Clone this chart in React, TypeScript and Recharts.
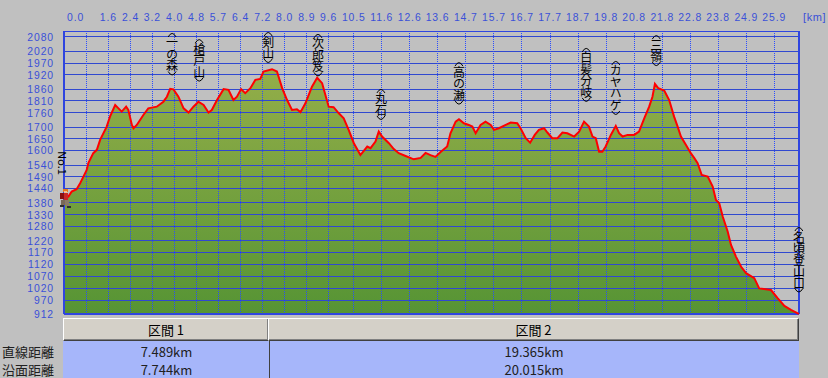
import React from "react";
import {
  Area,
  ComposedChart,
  Line,
  ReferenceDot,
  ReferenceLine,
  XAxis,
  YAxis,
} from "recharts";

// horizontal distance (km) and elevation (m)
const kmValues = [
  0, 0.16, 0.28, 0.46, 0.59, 0.71, 0.83, 0.89, 1.07, 1.2,
  1.32, 1.56, 1.68, 1.87, 1.99, 2.11, 2.27, 2.35, 2.48, 2.54,
  2.66, 2.9, 3.08, 3.39, 3.63, 3.76, 3.88, 4.0, 4.18, 4.37,
  4.55, 4.73, 4.91, 5.1, 5.28, 5.4, 5.59, 5.83, 6.01, 6.19,
  6.32, 6.47, 6.62, 6.81, 6.99, 7.17, 7.29, 7.6, 7.78, 7.97,
  8.15, 8.33, 8.51, 8.64, 8.82, 9.06, 9.25, 9.43, 9.67, 9.85,
  10.04, 10.22, 10.4, 10.59, 10.83, 11.08, 11.2, 11.38, 11.5, 11.62,
  11.87, 12.05, 12.23, 12.48, 12.78, 13.03, 13.21, 13.39, 13.57, 13.76,
  14.0, 14.12, 14.31, 14.43, 14.61, 14.79, 14.92, 15.04, 15.22, 15.4,
  15.59, 15.71, 15.89, 16.14, 16.32, 16.56, 16.68, 16.87, 17.03, 17.2,
  17.35, 17.54, 17.66, 17.84, 18.03, 18.21, 18.39, 18.64, 18.82, 19.0,
  19.18, 19.31, 19.43, 19.55, 19.67, 19.79, 19.98, 20.16, 20.28, 20.41,
  20.59, 20.83, 21.01, 21.2, 21.38, 21.5, 21.59, 21.71, 21.93, 22.11,
  22.29, 22.42, 22.54, 22.72, 22.9, 23.03, 23.15, 23.3, 23.52, 23.7,
  23.82, 23.94, 24.07, 24.25, 24.37, 24.55, 24.74, 24.92, 25.22, 25.4,
  25.83, 26.08, 26.32, 26.56, 26.81, 26.85,
];
const elevValues = [
  1393, 1407, 1428, 1438, 1463, 1491, 1519, 1548, 1590, 1604,
  1646, 1702, 1744, 1793, 1779, 1765, 1786, 1772, 1709, 1695,
  1709, 1751, 1779, 1786, 1807, 1828, 1861, 1859, 1828, 1779,
  1761, 1786, 1807, 1793, 1761, 1772, 1814, 1860, 1857, 1814,
  1828, 1860, 1843, 1864, 1899, 1903, 1934, 1944, 1934, 1864,
  1814, 1772, 1775, 1763, 1800, 1870, 1908, 1885, 1786, 1784,
  1758, 1737, 1688, 1632, 1582, 1618, 1611, 1639, 1681, 1660,
  1632, 1607, 1590, 1578, 1564, 1570, 1591, 1582, 1574, 1595,
  1618, 1674, 1723, 1733, 1716, 1709, 1702, 1674, 1709, 1723,
  1709, 1688, 1695, 1709, 1719, 1716, 1695, 1653, 1634, 1667,
  1688, 1695, 1677, 1653, 1653, 1677, 1674, 1660, 1681, 1723,
  1702, 1660, 1653, 1596, 1596, 1618, 1667, 1705, 1674, 1660,
  1667, 1667, 1681, 1737, 1786, 1828, 1882, 1864, 1854, 1814,
  1744, 1702, 1660, 1625, 1590, 1569, 1548, 1498, 1491, 1449,
  1393, 1379, 1322, 1259, 1203, 1154, 1111, 1084, 1063, 1020,
  1013, 978, 946, 929, 915, 912,
];

const xTickKm = [
  0, 0.82, 1.62, 2.43, 3.23, 4.04, 4.84, 5.64, 6.45, 7.26, 8.06, 8.87, 9.67,
  10.59, 11.61, 12.63, 13.65, 14.68, 15.71, 16.73, 17.76, 18.78, 19.81, 20.83,
  21.86, 22.88, 23.9, 24.93, 25.95,
];
const xTickLabels = [
  "0.0", "", "1.6", "2.4", "3.2", "4.0", "4.8", "5.7", "6.4", "7.2", "8.0", "8.9", "9.6",
  "10.5", "11.6", "12.6", "13.6", "14.7", "15.7", "16.7", "17.7", "18.7", "19.8", "20.8",
  "21.8", "22.8", "23.8", "24.9", "25.9",
];
const yTicks = [
  912, 970, 1020, 1070, 1120, 1170, 1220, 1280, 1330, 1380, 1440, 1490, 1540,
  1600, 1650, 1700, 1760, 1810, 1860, 1920, 1970, 2020, 2080,
];

// point names and where their labels sit (km, elevation of label top)
const pointNames = ["一の森", "槍戸山", "剣山", "次郎笈", "丸石", "高の瀬", "白髪分岐", "カヤハゲ", "三嶺", "名頃登山口"];
const pointKm = [3.95, 4.94, 7.46, 9.28, 11.58, 14.43, 19.08, 20.16, 21.64, 26.85];
const pointLabelElev = [2101, 2075, 2105, 2097, 1865, 1978, 2038, 1983, 2092, 1283];

const sectionNames = ["区間 1", "区間 2"];
const sectionKm = [7.489, 26.854];
const rowLabels = ["直線距離", "沿面距離"];
const straightDist = ["7.489km", "19.365km"];
const surfaceDist = ["7.744km", "20.015km"];

const profile = kmValues.map((km, i) => ({ km, elev: elevValues[i] }));

const X_MAX = 26.854;
const Y_MIN = 912;
const Y_MAX = 2105;
const PLOT_LEFT = 64;
const PLOT_RIGHT = 799;
const AXIS_BLUE = "#3a50d8";
const GRID_BLUE = "#3048d0";
const BORDER_BLUE = "#2f45e0";
const AXIS_FONT = '"Liberation Sans", Arial, sans-serif';

const kmToPx = (km: number) => PLOT_LEFT + (km / X_MAX) * (PLOT_RIGHT - PLOT_LEFT);

function XTick(props: any) {
  const { x, y, index } = props;
  const label = xTickLabels[index];
  if (!label) return null;
  const first = index === 0;
  return (
    <text
      x={first ? x + 3 : x}
      y={y}
      textAnchor={first ? "start" : "middle"}
      fill={AXIS_BLUE}
      fontSize={10.4}
      fontFamily={AXIS_FONT}
      letterSpacing={0.9}
    >
      {label}
    </text>
  );
}

function Hiker(props: any) {
  const { cx, cy, index } = props;
  if (index !== 0) return null;
  return (
    <g key="hiker" shapeRendering="crispEdges">
      <rect x={cx - 1} y={cy - 11} width={5} height={3} fill="#e8781c" />
      <rect x={cx} y={cy - 9} width={3} height={2} fill="#f0c090" />
      <rect x={cx - 4} y={cy - 7} width={4} height={6} fill="#8a1010" />
      <rect x={cx} y={cy - 7} width={4} height={7} fill="#c82828" />
      <rect x={cx - 3} y={cy} width={4} height={5} fill="#7a6a58" />
      <rect x={cx + 1} y={cy} width={4} height={6} fill="#8a7a66" />
      <rect x={cx - 4} y={cy + 5} width={4} height={2} fill="#303030" />
      <rect x={cx + 3} y={cy + 6} width={4} height={2} fill="#303030" />
    </g>
  );
}

// vertical, bracketed place name written top to bottom
const STEP = 11.5;
const vLabel = (text: string) => (p: any) => {
  const { cx, cy } = p;
  const n = Array.from(text).length;
  const bottom = cy + 5 + n * STEP;
  return (
    <g>
      <path d={`M${cx - 4},${cy + 5} Q${cx},${cy - 2} ${cx + 4},${cy + 5}`} stroke="#000" strokeWidth={1} fill="none" />
      <text
        x={cx}
        y={cy + 5}
        fontSize={12}
        fill="#000"
        letterSpacing={STEP - 12}
        style={{ writingMode: "vertical-rl" }}
      >
        {text}
      </text>
      <path d={`M${cx - 4},${bottom} Q${cx},${bottom + 7} ${cx + 4},${bottom}`} stroke="#000" strokeWidth={1} fill="none" />
    </g>
  );
};

const startLabel = (p: any) => (
  <text
    x={p.cx}
    y={p.cy}
    transform={`rotate(90 ${p.cx} ${p.cy})`}
    dy={1}
    dominantBaseline="central"
    fontSize={11}
    fill="#000"
  >
    No.1
  </text>
);

const headerCell: React.CSSProperties = {
  position: "absolute",
  top: 318,
  height: 23,
  boxSizing: "border-box",
  background: "#d4d0c8",
  borderTop: "1px solid #ffffff",
  borderLeft: "1px solid #ffffff",
  borderRight: "1px solid #404040",
  borderBottom: "1px solid #404040",
  boxShadow: "inset -1px -1px #808080",
  textAlign: "center",
  lineHeight: "21px",
  fontSize: 13,
  color: "#000",
};

export default function App() {
  const edges = [0, ...sectionKm].map(kmToPx);
  return (
    <div
      style={{
        position: "absolute",
        left: 0,
        top: 0,
        width: 828,
        height: 378,
        background: "#c0c0c0",
        overflow: "hidden",
        fontFamily: '"Noto Sans CJK JP", sans-serif',
      }}
    >
      <style>{`.profile .recharts-reference-line line { shape-rendering: crispEdges; }`}</style>
      <div className="profile" style={{ position: "absolute", left: 0, top: 0 }}>
        <ComposedChart width={828} height={322} data={profile} margin={{ top: 0, right: 828 - PLOT_RIGHT, bottom: 8, left: 0 }}>
          <defs>
            <linearGradient id="profileFill" x1="0" y1="0" x2="0" y2="1">
              <stop offset="0%" stopColor="#94ae49" />
              <stop offset="100%" stopColor="#569434" />
            </linearGradient>
          </defs>
          <XAxis
            dataKey="km"
            type="number"
            orientation="top"
            domain={[0, X_MAX]}
            ticks={xTickKm}
            interval={0}
            height={31}
            axisLine={false}
            tickLine={false}
            tickSize={0}
            tickMargin={10}
            tick={XTick}
          />
          <YAxis
            type="number"
            domain={[Y_MIN, Y_MAX]}
            ticks={yTicks}
            interval={0}
            width={PLOT_LEFT}
            axisLine={false}
            tickLine={false}
            tickSize={0}
            tickMargin={10}
            tick={{ fill: AXIS_BLUE, fontSize: 10.4, fontFamily: AXIS_FONT, letterSpacing: 0.9 }}
          />
          <Area
            dataKey="elev"
            type="linear"
            stroke="none"
            fill="url(#profileFill)"
            fillOpacity={1}
            isAnimationActive={false}
            activeDot={false}
          />
          {yTicks.slice(1).map((v) => (
            <ReferenceLine key={"y" + v} y={v} stroke={GRID_BLUE} strokeWidth={1} />
          ))}
          {xTickKm.slice(1).map((v) => (
            <ReferenceLine key={"x" + v} x={v} stroke="#2a4cff" strokeWidth={1} strokeDasharray="1 1" />
          ))}
          <ReferenceLine y={Y_MAX} stroke={BORDER_BLUE} strokeWidth={1} />
          <ReferenceLine y={Y_MIN} stroke={BORDER_BLUE} strokeWidth={2} />
          <ReferenceLine x={0} stroke={BORDER_BLUE} strokeWidth={2} />
          <ReferenceLine x={X_MAX} stroke={BORDER_BLUE} strokeWidth={2} />
          <Line
            dataKey="elev"
            type="linear"
            stroke="#ff0000"
            strokeWidth={2}
            dot={Hiker}
            activeDot={false}
            isAnimationActive={false}
          />
          {pointNames.map((name, i) => (
            <ReferenceDot
              key={name}
              x={pointKm[i]}
              y={pointLabelElev[i]}
              r={0}
              ifOverflow="visible"
              shape={vLabel(name)}
            />
          ))}
          <ReferenceDot x={0} y={1598} r={0} ifOverflow="visible" shape={startLabel} />
        </ComposedChart>
      </div>
      <div
        style={{
          position: "absolute",
          left: 803,
          top: 11,
          fontSize: 11,
          lineHeight: "13px",
          color: AXIS_BLUE,
          fontFamily: AXIS_FONT,
          letterSpacing: 0.6,
        }}
      >
        [km]
      </div>

      {sectionNames.map((s, i) => (
        <div key={s} style={{ ...headerCell, left: edges[i] - 1, width: edges[i + 1] - edges[i] + 1 }}>
          {s}
        </div>
      ))}
      <div
        style={{
          position: "absolute",
          left: PLOT_LEFT - 1,
          top: 341,
          width: PLOT_RIGHT - PLOT_LEFT + 1,
          height: 37,
          background: "#a6b6fa",
        }}
      />
      <div style={{ position: "absolute", left: edges[1], top: 341, width: 1, height: 37, background: "#404040" }} />
      {[straightDist, surfaceDist].map((row, r) => (
        <React.Fragment key={r}>
          <div
            style={{
              position: "absolute",
              left: 2,
              top: 343 + r * 18,
              height: 18,
              lineHeight: "18px",
              fontSize: 13,
              color: "#202020",
            }}
          >
            {rowLabels[r]}
          </div>
          {row.map((v, i) => (
            <div
              key={i}
              style={{
                position: "absolute",
                left: edges[i],
                width: edges[i + 1] - edges[i],
                top: 343 + r * 18,
                height: 18,
                lineHeight: "18px",
                textAlign: "center",
                fontSize: 13,
                color: "#202020",
              }}
            >
              {v}
            </div>
          ))}
        </React.Fragment>
      ))}
    </div>
  );
}
